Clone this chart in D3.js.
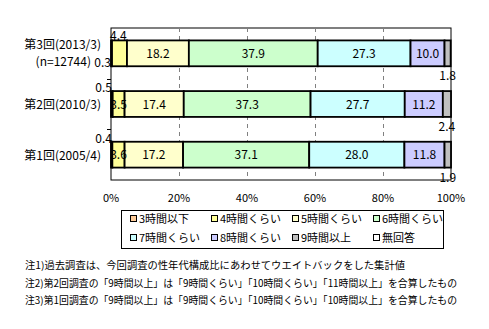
<!DOCTYPE html>
<html><head><meta charset="utf-8">
<script src="https://cdn.jsdelivr.net/npm/d3@7"></script>
<style>
body{margin:0;background:#fff;}
svg text{font-family:"Noto Sans CJK JP","DejaVu Sans",sans-serif;}
</style></head>
<body><div id="chart"></div>
<script>
const categories = ["第3回(2013/3)", "第2回(2010/3)", "第1回(2005/4)"];
const subLabels = ["(n=12744)", "", ""];
const seriesNames = ["3時間以下","4時間くらい","5時間くらい","6時間くらい","7時間くらい","8時間くらい","9時間以上","無回答"];
const h3 = [0.3, 0.5, 0.4];
const h4 = [4.4, 3.5, 3.6];
const h5 = [18.2, 17.4, 17.2];
const h6 = [37.9, 37.3, 37.1];
const h7 = [27.3, 27.7, 28.0];
const h8 = [10.0, 11.2, 11.8];
const h9 = [1.8, 2.4, 1.9];
const noAns = [0.0, 0.0, 0.0];
const colors = ["#FFCC99","#FFFF99","#FFFFCC","#CCFFCC","#CCFFFF","#CCCCFF","#C0C0C0","#FFFFFF"];
const xTicks = [0, 20, 40, 60, 80, 100];
const notes = [
 "注1)過去調査は、今回調査の性年代構成比にあわせてウエイトバックをした集計値",
 "注2)第2回調査の「9時間以上」は「9時間くらい」「10時間くらい」「11時間以上」を合算したもの",
 "注3)第1回調査の「9時間以上」は「9時間くらい」「10時間くらい」「10時間以上」を合算したもの"
];
const noteWidths = [380, 432, 432];
const series = [h3,h4,h5,h6,h7,h8,h9,noAns];

const W = 489, H = 329;
const svg = d3.select("#chart").append("svg").attr("width", W).attr("height", H);
const m = {left:111, right:451, top:28, bottom:180};
const x = d3.scaleLinear().domain([0,100]).range([m.left, m.right]);
const y = d3.scaleBand().domain(categories).range([m.top, m.bottom]).paddingInner(0.49).paddingOuter(0.245);

svg.append("rect").attr("x", m.left).attr("y", m.top).attr("width", m.right-m.left).attr("height", m.bottom-m.top)
  .attr("fill","#fff").attr("stroke","#000").attr("stroke-width",1);

svg.append("g").selectAll("line").data(xTicks.filter(t=>t>0&&t<100)).join("line")
  .attr("x1", d=>Math.round(x(d))+0.5).attr("x2", d=>Math.round(x(d))+0.5)
  .attr("y1", m.top).attr("y2", m.bottom)
  .attr("stroke","#808080").attr("stroke-dasharray","4,4");

[1,2].forEach(i=>{
  const yy = Math.round(m.top + (m.bottom-m.top)*i/3)+0.5;
  svg.append("line").attr("x1", m.left-4).attr("x2", m.left).attr("y1", yy).attr("y2", yy).attr("stroke","#000");
});

const stacked = categories.map((c,i)=>{
  let acc=0;
  return series.map((s,k)=>{const v=s[i]; const o={cat:c,i,k,v,x0:acc,x1:acc+v}; acc+=v; return o;});
});
const g = svg.append("g");
stacked.forEach(row=>{
  g.selectAll(null).data(row.filter(d=>d.v>0)).join("rect")
    .attr("x", d=>x(d.x0)).attr("width", d=>x(d.x1)-x(d.x0))
    .attr("y", d=>y(d.cat)).attr("height", y.bandwidth())
    .attr("fill", d=>colors[d.k]).attr("stroke","#000").attr("stroke-width",1.8);
});

const lab = svg.append("g").attr("font-size",12).attr("fill","#000");
stacked.forEach(row=>{
  row.forEach(d=>{
    if (d.v<=0) return;
    const top = y(d.cat), bot = top + y.bandwidth(), mid = top + y.bandwidth()/2;
    const t = d.v.toFixed(1);
    if (d.k===0) {
      if (d.i===0) lab.append("text").attr("x", m.left).attr("y", bot+1).attr("text-anchor","end").text(t);
      else lab.append("text").attr("x", m.left+1).attr("y", top+1).attr("text-anchor","end").text(t);
    } else if (d.k===6) {
      lab.append("text").attr("x", x(d.x0+d.v/2)).attr("y", bot+14).attr("text-anchor","middle").text(t);
    } else if (d.k===1 && d.i===0) {
      lab.append("text").attr("x", x(d.x0)-2).attr("y", top).attr("text-anchor","start").text(t);
    } else {
      lab.append("text").attr("x", x(d.x0+d.v/2)).attr("y", mid+4.5).attr("text-anchor","middle").text(t);
    }
  });
});

const cl = svg.append("g").attr("font-size",12);
categories.forEach((c,i)=>{
  const mid = y(c)+y.bandwidth()/2;
  if (subLabels[i]) {
    cl.append("text").attr("x", 101).attr("y", mid-4).attr("text-anchor","end").text(c);
    cl.append("text").attr("x", 91).attr("y", mid+13).attr("text-anchor","end").text(subLabels[i]);
  } else {
    cl.append("text").attr("x", 101).attr("y", mid+5).attr("text-anchor","end").text(c);
  }
});

svg.append("g").attr("font-size",11).selectAll("text").data(xTicks).join("text")
  .attr("x", d=>x(d)).attr("y", 202).attr("text-anchor","middle").text(d=>d+"%");

svg.append("rect").attr("x",121.5).attr("y",210.5).attr("width",322).attr("height",38).attr("fill","#fff").attr("stroke","#000");
const lg = svg.append("g").attr("font-size",11);
seriesNames.forEach((n,k)=>{
  const col = k%4, row = Math.floor(k/4);
  const lx = 130 + col*81, ly = 219 + row*19;
  lg.append("rect").attr("x", lx+0.5).attr("y", ly-3.5).attr("width",6).attr("height",6).attr("fill",colors[k]).attr("stroke","#000");
  lg.append("text").attr("x", lx+9).attr("y", ly+4).text(n);
});

svg.append("g").attr("font-size",10).selectAll("text").data(notes).join("text")
  .attr("x",25).attr("y",(d,i)=>269+i*17.5)
  .attr("textLength",(d,i)=>noteWidths[i]).attr("lengthAdjust","spacingAndGlyphs")
  .text(d=>d);
</script></body></html>
